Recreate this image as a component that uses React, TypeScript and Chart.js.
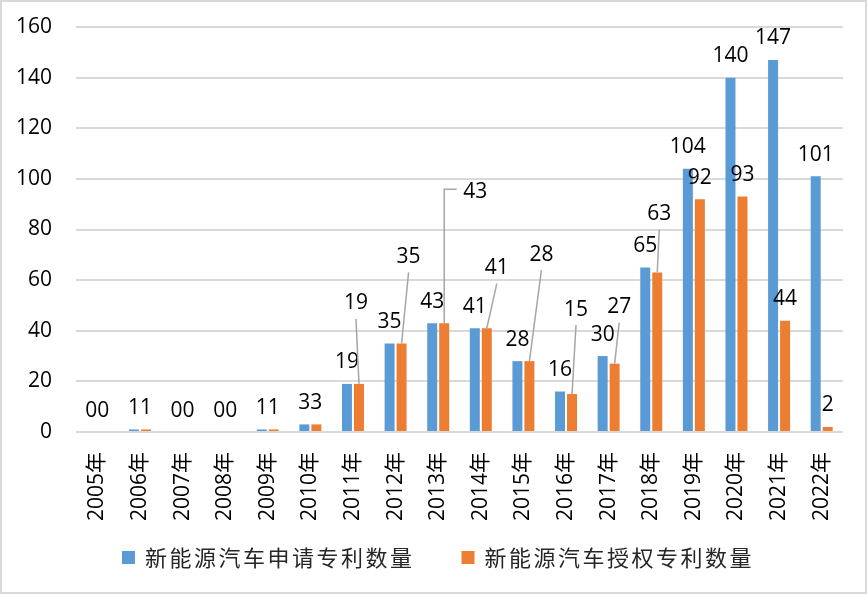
import React, { useEffect, useRef } from 'react';
import { Chart, registerables } from 'chart.js';

Chart.register(...registerables);

// ---- data ----
const years = [
  '2005年', '2006年', '2007年', '2008年', '2009年', '2010年', '2011年', '2012年', '2013年',
  '2014年', '2015年', '2016年', '2017年', '2018年', '2019年', '2020年', '2021年', '2022年',
];
const appliedCounts = [0, 1, 0, 0, 1, 3, 19, 35, 43, 41, 28, 16, 30, 65, 104, 140, 147, 101];
const grantedCounts = [0, 1, 0, 0, 1, 3, 19, 35, 43, 41, 28, 15, 27, 63, 92, 93, 44, 2];
const seriesNames = ['新能源汽车申请专利数量', '新能源汽车授权专利数量'];
const yMin = 0;
const yMax = 160;
const yStep = 20;

// ---- style ----
const seriesColors = ['#5B9BD5', '#ED7D31'];
const NUM_FONT = '"Open Sans", "Noto Sans CJK SC", sans-serif';
const LEGEND_FONT = '"Noto Sans CJK SC", sans-serif';
// manual label shifts (px) for the granted series labels that use leader lines
const grantedLabelShift: ([number, number] | null)[] = [
  null, null, null, null, null, null,
  [-3, -59], [7, -65], [31, -109.5], [10, -38.6], [12, -85], [4, -63], [4.5, -35], [2, -37],
  null, null, null, null,
];

const framePlugin = {
  id: 'frame',
  beforeDraw(chart: any) {
    const ctx = chart.ctx;
    ctx.save();
    ctx.fillStyle = '#ffffff';
    ctx.fillRect(0, 0, chart.width, chart.height);
    ctx.restore();
  },
  afterDraw(chart: any) {
    const ctx = chart.ctx;
    ctx.save();
    ctx.strokeStyle = '#d9d9d9';
    ctx.lineWidth = 2;
    ctx.strokeRect(1, 1, chart.width - 2, chart.height - 2);
    ctx.restore();
  },
};

const valueLabelPlugin = {
  id: 'valueLabels',
  afterDatasetsDraw(chart: any) {
    const ctx = chart.ctx;
    ctx.save();
    ctx.font = `21px ${NUM_FONT}`;
    ctx.textAlign = 'center';
    ctx.textBaseline = 'alphabetic';
    chart.data.datasets.forEach((ds: any, di: number) => {
      const meta = chart.getDatasetMeta(di);
      const shifts = di === 1 ? grantedLabelShift : [];
      meta.data.forEach((bar: any, i: number) => {
        const v = String(ds.data[i]);
        const bx = bar.x;
        const top = bar.y;
        const s = shifts[i];
        let cx = bx;
        let cy = top - 23;
        if (s) {
          cx += s[0];
          cy += s[1];
          const tw = ctx.measureText(v).width;
          ctx.strokeStyle = '#a6a6a6';
          ctx.lineWidth = 1.5;
          ctx.beginPath();
          if (Math.abs(s[0]) > 20) {
            ctx.moveTo(bx, top);
            ctx.lineTo(bx, cy - 1.5);
            ctx.lineTo(cx - tw / 2 - 6.5, cy - 1.5);
          } else {
            ctx.moveTo(cx, cy + 17);
            ctx.lineTo(bx, top);
          }
          ctx.stroke();
        }
        ctx.fillStyle = '#000000';
        ctx.fillText(v, cx, cy + 7.5);
      });
    });
    ctx.restore();
  },
};

const legendPlugin = {
  id: 'customLegend',
  afterDraw(chart: any) {
    const ctx = chart.ctx;
    ctx.save();
    ctx.font = `22px ${LEGEND_FONT}`;
    (ctx as any).letterSpacing = '2.5px';
    const items = chart.data.datasets.map((ds: any) => ({
      text: ds.label as string,
      color: ds.backgroundColor as string,
      w: ctx.measureText(ds.label).width,
    }));
    const box = 13;
    const gap = 10;
    const itemGap = 47;
    const total =
      items.reduce((a: number, it: any) => a + box + gap + it.w, 0) + itemGap * (items.length - 1);
    let x = 438 - total / 2;
    const y = 558;
    ctx.textAlign = 'left';
    ctx.textBaseline = 'middle';
    items.forEach((it: any) => {
      ctx.fillStyle = it.color;
      ctx.fillRect(x, y - 7, box, box);
      x += box + gap;
      ctx.fillStyle = '#262626';
      ctx.fillText(it.text, x, y);
      x += it.w + itemGap;
    });
    ctx.restore();
  },
};

export default function App() {
  const canvasRef = useRef<HTMLCanvasElement | null>(null);

  useEffect(() => {
    if (!canvasRef.current) return;
    const chart = new Chart(canvasRef.current, {
      type: 'bar',
      data: {
        labels: years,
        datasets: [
          {
            label: seriesNames[0],
            data: appliedCounts,
            backgroundColor: seriesColors[0],
            categoryPercentage: 0.563,
            barPercentage: 0.833,
          },
          {
            label: seriesNames[1],
            data: grantedCounts,
            backgroundColor: seriesColors[1],
            categoryPercentage: 0.563,
            barPercentage: 0.833,
          },
        ],
      },
      options: {
        responsive: false,
        animation: false,
        layout: { padding: { top: 27, right: 24, bottom: 0, left: 0 } },
        plugins: {
          legend: { display: false },
          tooltip: { enabled: false },
        },
        scales: {
          x: {
            grid: { display: false, drawTicks: false },
            border: { display: false },
            ticks: {
              color: '#000000',
              font: { family: NUM_FONT, size: 21 },
              minRotation: 90,
              maxRotation: 90,
              autoSkip: false,
              padding: 20,
            },
            afterFit: (s: any) => {
              s.height = 162;
              s.paddingLeft = 0;
              s.paddingRight = 0;
            },
          },
          y: {
            min: yMin,
            max: yMax,
            ticks: {
              stepSize: yStep,
              color: '#000000',
              font: { family: NUM_FONT, size: 21 },
              padding: 24,
            },
            grid: { color: '#d9d9d9', lineWidth: 2, drawTicks: false },
            border: { display: false },
            afterFit: (s: any) => {
              s.width = 76;
              s.paddingTop = 0;
              s.paddingBottom = 0;
            },
          },
        },
      },
      plugins: [framePlugin, valueLabelPlugin, legendPlugin],
    });
    return () => chart.destroy();
  }, []);

  return (
    <div style={{ position: 'fixed', left: 0, top: 0, width: 867, height: 594, background: '#fff' }}>
      <canvas ref={canvasRef} width={867} height={594} style={{ display: 'block', width: 867, height: 594 }} />
    </div>
  );
}
